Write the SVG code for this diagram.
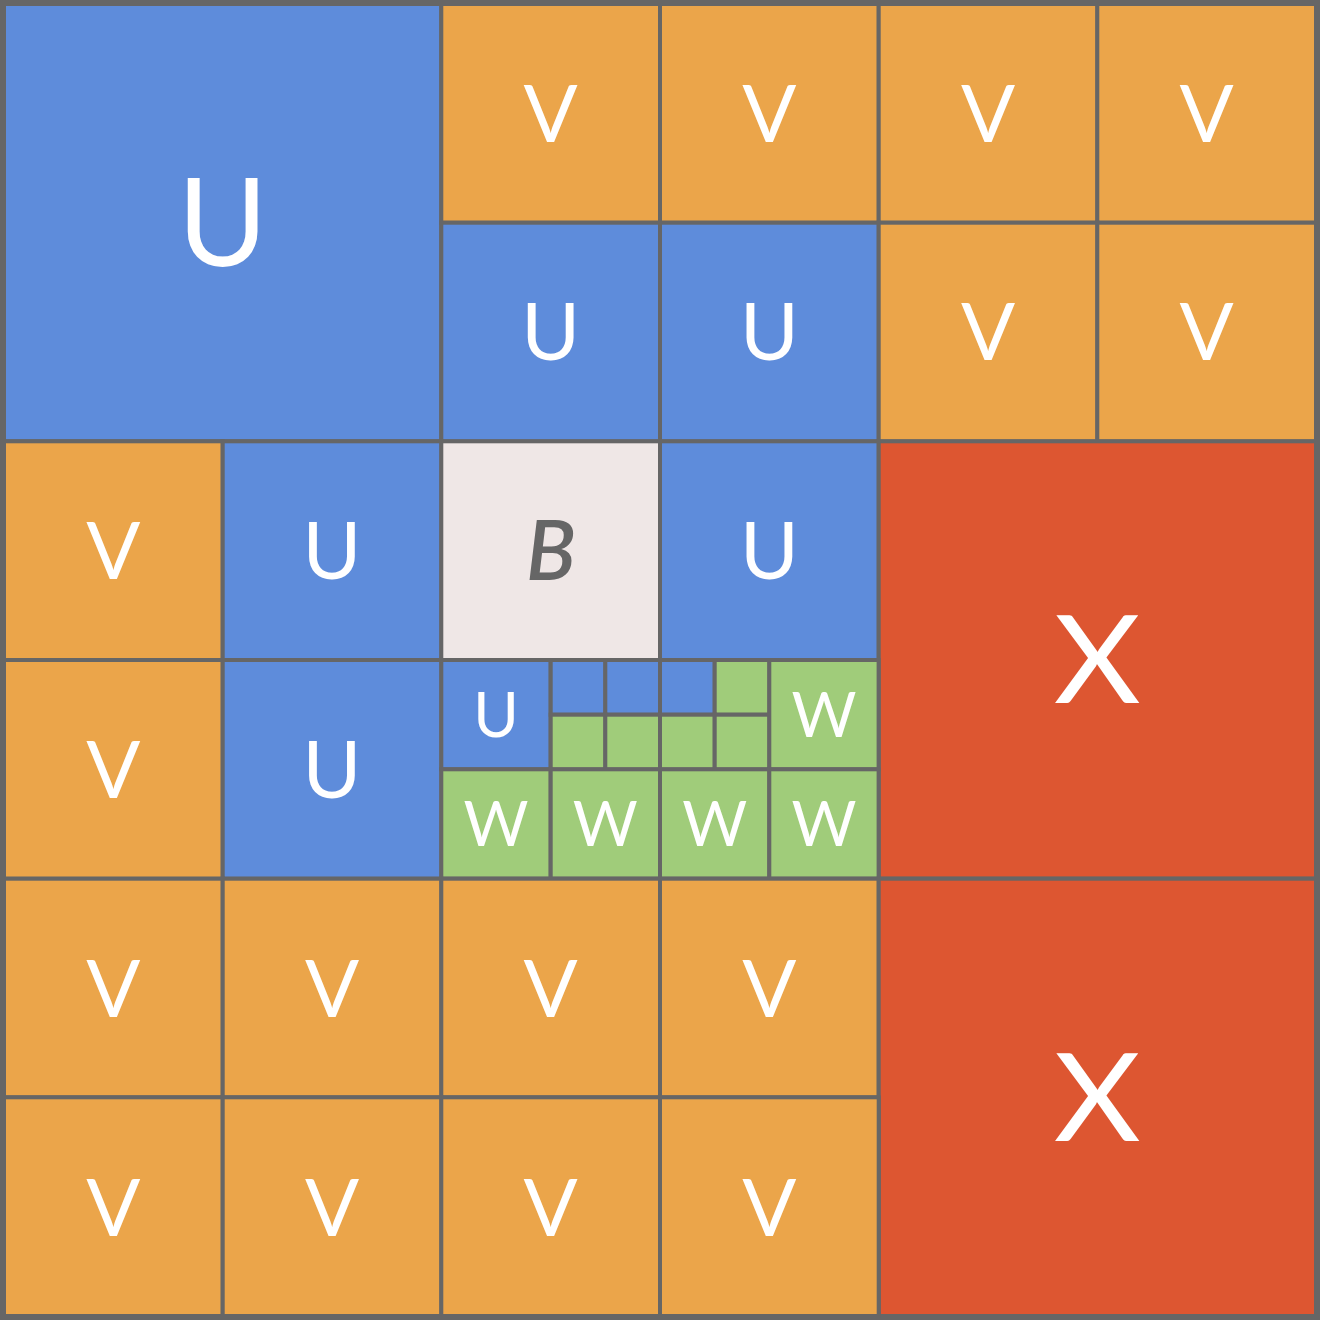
<svg xmlns="http://www.w3.org/2000/svg" width="1320" height="1320" viewBox="0 0 1320 1320">
<style>
rect{stroke:#666;stroke-width:4}
.u{fill:#5E8CDB}.v{fill:#EBA54A}.x{fill:#DD5631}.w{fill:#A0CC7A}.b{fill:#EFE7E6}
text{font-family:Lato,"Open Sans","Liberation Sans",sans-serif;fill:#fff;text-anchor:middle}
.l{font-size:122px}.m{font-size:80px}.s{font-size:62px}
.bt{font-size:82px;font-style:italic;font-weight:600;fill:#666}
</style>
<rect x="0" y="0" width="1320" height="1320" fill="#fff" stroke="none"/>
<g id="u-big"><rect class="u" x="4" y="4" width="437.3" height="437.3"/><text class="l" x="222.7" y="266">U</text></g>
<g id="v-r0c2"><rect class="v" x="441.3" y="4" width="218.7" height="218.7"/><text class="m" x="550.7" y="142">V</text></g>
<g id="v-r0c3"><rect class="v" x="660" y="4" width="218.7" height="218.7"/><text class="m" x="769.3" y="142">V</text></g>
<g id="v-r0c4"><rect class="v" x="878.7" y="4" width="218.7" height="218.7"/><text class="m" x="988" y="142">V</text></g>
<g id="v-r0c5"><rect class="v" x="1097.3" y="4" width="218.7" height="218.7"/><text class="m" x="1206.7" y="142">V</text></g>
<g id="u-r1c2"><rect class="u" x="441.3" y="222.7" width="218.7" height="218.7"/><text class="m" x="550.7" y="360">U</text></g>
<g id="u-r1c3"><rect class="u" x="660" y="222.7" width="218.7" height="218.7"/><text class="m" x="769.3" y="360">U</text></g>
<g id="v-r1c4"><rect class="v" x="878.7" y="222.7" width="218.7" height="218.7"/><text class="m" x="988" y="360">V</text></g>
<g id="v-r1c5"><rect class="v" x="1097.3" y="222.7" width="218.7" height="218.7"/><text class="m" x="1206.7" y="360">V</text></g>
<g id="v-r2c0"><rect class="v" x="4" y="441.3" width="218.7" height="218.7"/><text class="m" x="113.3" y="579">V</text></g>
<g id="u-r2c1"><rect class="u" x="222.7" y="441.3" width="218.7" height="218.7"/><text class="m" x="332" y="579">U</text></g>
<g id="b"><rect class="b" x="441.3" y="441.3" width="218.7" height="218.7"/><text class="bt" x="551" y="580">B</text></g>
<g id="u-r2c3"><rect class="u" x="660" y="441.3" width="218.7" height="218.7"/><text class="m" x="769.3" y="579">U</text></g>
<g id="x-top"><rect class="x" x="878.7" y="441.3" width="437.3" height="437.3"/><text class="l" x="1097.3" y="703" textLength="87" lengthAdjust="spacingAndGlyphs">X</text></g>
<g id="v-r3c0"><rect class="v" x="4" y="660" width="218.7" height="218.7"/><text class="m" x="113.3" y="798">V</text></g>
<g id="u-r3c1"><rect class="u" x="222.7" y="660" width="218.7" height="218.7"/><text class="m" x="332" y="798">U</text></g>
<g id="sub-left">
<g id="u-small"><rect class="u" x="441.3" y="660" width="109.3" height="109.3"/><text class="s" x="496" y="737">U</text></g>
<rect class="u" x="550.7" y="660" width="54.7" height="54.7"/>
<rect class="u" x="605.3" y="660" width="54.7" height="54.7"/>
<rect class="w" x="550.7" y="714.7" width="54.7" height="54.7"/>
<rect class="w" x="605.3" y="714.7" width="54.7" height="54.7"/>
<g id="w-a"><rect class="w" x="441.3" y="769.3" width="109.3" height="109.3"/><text class="s" x="496" y="846" textLength="65" lengthAdjust="spacingAndGlyphs">W</text></g>
<g id="w-b"><rect class="w" x="550.7" y="769.3" width="109.3" height="109.3"/><text class="s" x="605.3" y="846" textLength="65" lengthAdjust="spacingAndGlyphs">W</text></g>
</g>
<g id="sub-right">
<rect class="u" x="660" y="660" width="54.7" height="54.7"/>
<rect class="w" x="714.7" y="660" width="54.7" height="54.7"/>
<rect class="w" x="660" y="714.7" width="54.7" height="54.7"/>
<rect class="w" x="714.7" y="714.7" width="54.7" height="54.7"/>
<g id="w-c"><rect class="w" x="769.3" y="660" width="109.3" height="109.3"/><text class="s" x="824" y="737" textLength="65" lengthAdjust="spacingAndGlyphs">W</text></g>
<g id="w-d"><rect class="w" x="660" y="769.3" width="109.3" height="109.3"/><text class="s" x="714.7" y="846" textLength="65" lengthAdjust="spacingAndGlyphs">W</text></g>
<g id="w-e"><rect class="w" x="769.3" y="769.3" width="109.3" height="109.3"/><text class="s" x="824" y="846" textLength="65" lengthAdjust="spacingAndGlyphs">W</text></g>
</g>
<g id="v-r4c0"><rect class="v" x="4" y="878.7" width="218.7" height="218.7"/><text class="m" x="113.3" y="1017">V</text></g>
<g id="v-r4c1"><rect class="v" x="222.7" y="878.7" width="218.7" height="218.7"/><text class="m" x="332" y="1017">V</text></g>
<g id="v-r4c2"><rect class="v" x="441.3" y="878.7" width="218.7" height="218.7"/><text class="m" x="550.7" y="1017">V</text></g>
<g id="v-r4c3"><rect class="v" x="660" y="878.7" width="218.7" height="218.7"/><text class="m" x="769.3" y="1017">V</text></g>
<g id="x-bottom"><rect class="x" x="878.7" y="878.7" width="437.3" height="437.3"/><text class="l" x="1097.3" y="1141" textLength="87" lengthAdjust="spacingAndGlyphs">X</text></g>
<g id="v-r5c0"><rect class="v" x="4" y="1097.3" width="218.7" height="218.7"/><text class="m" x="113.3" y="1236">V</text></g>
<g id="v-r5c1"><rect class="v" x="222.7" y="1097.3" width="218.7" height="218.7"/><text class="m" x="332" y="1236">V</text></g>
<g id="v-r5c2"><rect class="v" x="441.3" y="1097.3" width="218.7" height="218.7"/><text class="m" x="550.7" y="1236">V</text></g>
<g id="v-r5c3"><rect class="v" x="660" y="1097.3" width="218.7" height="218.7"/><text class="m" x="769.3" y="1236">V</text></g>
<g id="connectors"/>
</svg>
